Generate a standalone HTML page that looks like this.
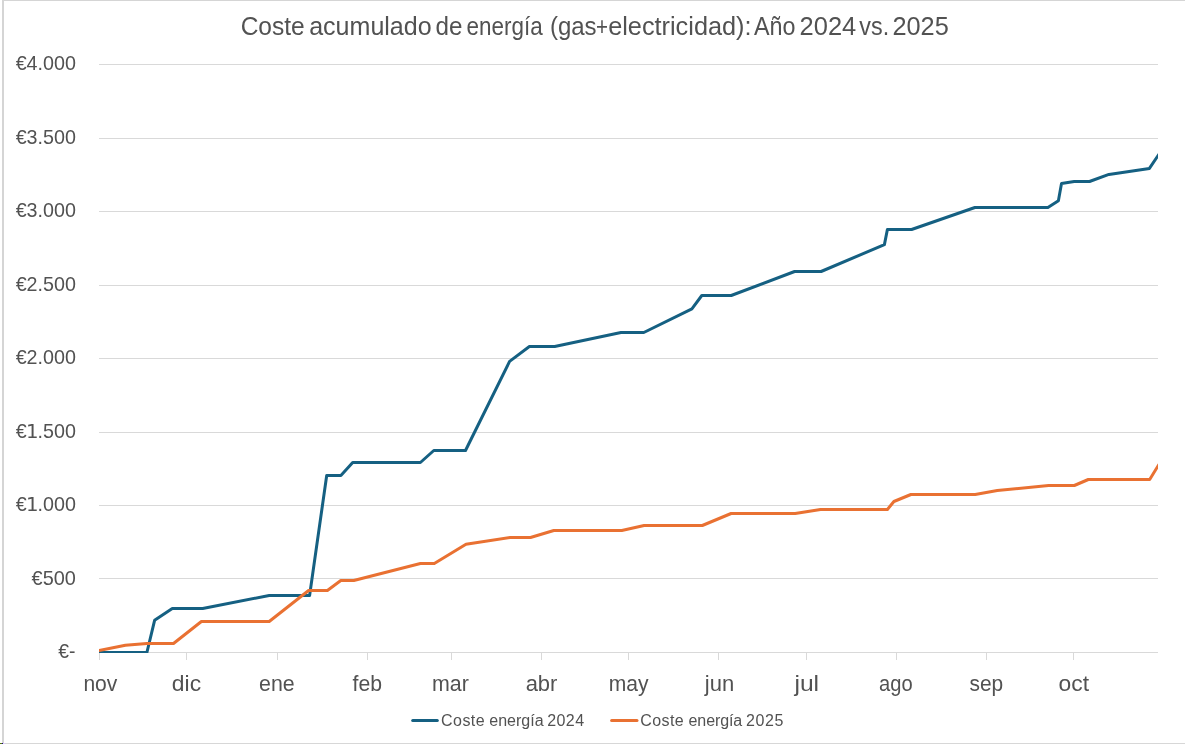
<!DOCTYPE html>
<html lang="es">
<head>
<meta charset="utf-8">
<title>Coste acumulado de energía (gas+electricidad): Año 2024 vs. 2025</title>
<style>
html,body{margin:0;padding:0;background:#fff;}
body{width:1185px;height:744px;overflow:hidden;position:relative;font-family:"Liberation Sans",sans-serif;}
svg{position:absolute;left:0;top:0;display:block;}
text{font-family:"Liberation Sans",sans-serif;fill:#525252;white-space:pre;}
.yl{font-size:19.8px;}
.xl{font-size:22.3px;}
.tt{font-size:25px;}
.lg{font-size:16px;}
.d1{font-family:"DejaVu Sans","Liberation Sans",sans-serif;}
</style>
</head>
<body>
<svg width="1185" height="744" viewBox="0 0 1185 744">
<rect x="0" y="0" width="1185" height="744" fill="#ffffff"/>
<g shape-rendering="crispEdges">
<rect x="2" y="0" width="1183" height="1" fill="#d5d5d5"/>
<rect x="2" y="0" width="2" height="744" fill="#d5d5d5"/>
<rect x="5" y="743" width="1180" height="1" fill="#d7d7d7"/>
<rect x="0" y="743" width="2" height="1" fill="#557a10"/>
<rect x="2" y="743" width="1" height="1" fill="#1e0e78"/>
<rect x="3" y="743" width="2" height="1" fill="#dccdfc"/>
</g>
<g fill="#d9d9d9" shape-rendering="crispEdges">
<rect x="99" y="64" width="1059" height="1"/>
<rect x="99" y="138" width="1059" height="1"/>
<rect x="99" y="211" width="1059" height="1"/>
<rect x="99" y="285" width="1059" height="1"/>
<rect x="99" y="358" width="1059" height="1"/>
<rect x="99" y="432" width="1059" height="1"/>
<rect x="99" y="505" width="1059" height="1"/>
<rect x="99" y="578" width="1059" height="1"/>
<rect x="99" y="652" width="1059" height="1"/>
<rect x="99" y="653" width="1" height="7"/>
<rect x="186" y="653" width="1" height="7"/>
<rect x="277" y="653" width="1" height="7"/>
<rect x="367" y="653" width="1" height="7"/>
<rect x="451" y="653" width="1" height="7"/>
<rect x="541" y="653" width="1" height="7"/>
<rect x="628" y="653" width="1" height="7"/>
<rect x="718" y="653" width="1" height="7"/>
<rect x="806" y="653" width="1" height="7"/>
<rect x="896" y="653" width="1" height="7"/>
<rect x="986" y="653" width="1" height="7"/>
<rect x="1073" y="653" width="1" height="7"/>
</g>
<text class="tt"><tspan x="240.64" y="34.70" textLength="64.11" lengthAdjust="spacingAndGlyphs">Coste</tspan> <tspan x="309.15" y="34.70" textLength="122.52" lengthAdjust="spacingAndGlyphs">acumulado</tspan> <tspan x="435.57" y="34.70" textLength="26.93" lengthAdjust="spacingAndGlyphs">de</tspan> <tspan x="466.50" y="34.70" textLength="76.14" lengthAdjust="spacingAndGlyphs">energía</tspan> <tspan x="549.90" y="34.70" textLength="46.70" lengthAdjust="spacingAndGlyphs">(gas</tspan><tspan x="596.00" y="34.70" textLength="12.00" lengthAdjust="spacingAndGlyphs">+</tspan><tspan x="608.17" y="34.70" textLength="143.39" lengthAdjust="spacingAndGlyphs">electricidad):</tspan> <tspan x="753.92" y="34.70" textLength="41.47" lengthAdjust="spacingAndGlyphs">Año</tspan> <tspan x="799.60" y="34.70" textLength="56.64" lengthAdjust="spacingAndGlyphs">2024</tspan> <tspan x="859.35" y="34.70" textLength="29.81" lengthAdjust="spacingAndGlyphs">vs.</tspan> <tspan x="892.44" y="34.70" textLength="56.36" lengthAdjust="spacingAndGlyphs">2025</tspan></text>
<text class="yl" x="15.67" y="70.10" textLength="60.28" lengthAdjust="spacingAndGlyphs">€4.000</text>
<text class="yl" x="15.67" y="144.10" textLength="60.28" lengthAdjust="spacingAndGlyphs">€3.500</text>
<text class="yl" x="15.67" y="217.10" textLength="60.28" lengthAdjust="spacingAndGlyphs">€3.000</text>
<text class="yl" x="15.67" y="291.10" textLength="60.28" lengthAdjust="spacingAndGlyphs">€2.500</text>
<text class="yl" x="15.67" y="364.10" textLength="60.28" lengthAdjust="spacingAndGlyphs">€2.000</text>
<text class="yl" x="15.67" y="438.10" textLength="60.28" lengthAdjust="spacingAndGlyphs">€<tspan class="d1" dx="-0.7">1</tspan><tspan dx="-0.9">.500</tspan></text>
<text class="yl" x="15.67" y="511.10" textLength="60.28" lengthAdjust="spacingAndGlyphs">€<tspan class="d1" dx="-0.7">1</tspan><tspan dx="-0.9">.000</tspan></text>
<text class="yl" x="31.59" y="585.00" textLength="44.26" lengthAdjust="spacingAndGlyphs">€500</text>
<text class="yl" x="58.31" y="658.10" textLength="17.18" lengthAdjust="spacingAndGlyphs">€-</text>
<text class="xl" x="83.38" y="690.80" textLength="33.95" lengthAdjust="spacingAndGlyphs">nov</text>
<text class="xl" x="171.87" y="690.80" textLength="29.26" lengthAdjust="spacingAndGlyphs">dic</text>
<text class="xl" x="259.04" y="690.80" textLength="35.60" lengthAdjust="spacingAndGlyphs">ene</text>
<text class="xl" x="352.50" y="690.80" textLength="29.49" lengthAdjust="spacingAndGlyphs">feb</text>
<text class="xl" x="432.01" y="690.80" textLength="36.82" lengthAdjust="spacingAndGlyphs">mar</text>
<text class="xl" x="525.64" y="690.80" textLength="31.74" lengthAdjust="spacingAndGlyphs">abr</text>
<text class="xl" x="608.85" y="690.80" textLength="39.76" lengthAdjust="spacingAndGlyphs">may</text>
<text class="xl" x="704.76" y="690.80" textLength="29.38" lengthAdjust="spacingAndGlyphs">jun</text>
<text class="xl" x="794.44" y="690.80" textLength="24.66" lengthAdjust="spacingAndGlyphs">jul</text>
<text class="xl" x="879.00" y="690.80" textLength="33.57" lengthAdjust="spacingAndGlyphs">ago</text>
<text class="xl" x="969.45" y="690.80" textLength="33.73" lengthAdjust="spacingAndGlyphs">sep</text>
<text class="xl" x="1058.63" y="690.80" textLength="30.46" lengthAdjust="spacingAndGlyphs">oct</text>
<defs><clipPath id="pc"><rect x="99" y="40" width="1059" height="613"/></clipPath></defs>
<g clip-path="url(#pc)" fill="none" stroke-width="3" stroke-linejoin="round" stroke-linecap="round">
<polyline stroke="#156082" points="99,652.5 146.9,652.5 154.6,620.3 172.3,608.5 202.7,608.5 269.2,595.5 309.6,595.5 326.7,475.5 340.9,475.5 352.7,462.5 420.4,462.5 433.8,450.5 465.5,450.5 509.6,361.4 529.4,346.5 554.7,346.5 621,332.5 643.8,332.5 691.9,308.8 701.8,295.5 731.2,295.5 794.6,271.5 821.1,271.5 884.4,244.6 887.4,229.5 911.6,229.5 974.9,207.5 1047.9,207.5 1058.4,200.7 1061.5,183.6 1074.2,181.5 1089.5,181.5 1108.9,174.4 1149.4,168.4 1158.6,154.8"/>
<polyline stroke="#e97132" points="99,650.5 125.4,645.2 147,643.5 173.5,643.5 201.4,621.5 269.2,621.5 308.6,590.5 327.4,590.5 340.8,580.5 353.8,580.5 420.4,563.5 434.3,563.5 466,544.3 510.3,537.5 530.5,537.5 553.8,530.5 621.8,530.5 644.1,525.5 702.3,525.5 731.1,513.5 795.2,513.5 820.5,509.5 887.4,509.5 893.9,501.5 910.9,494.5 975.2,494.5 997.3,490.5 1048.6,485.5 1074.3,485.5 1088.3,479.5 1149.7,479.5 1158.6,465.0"/>
</g>
<g fill="none" stroke-width="3" stroke-linecap="round">
<line x1="412.7" y1="720.5" x2="437.3" y2="720.5" stroke="#156082"/>
<line x1="611.6" y1="720.5" x2="637.0" y2="720.5" stroke="#e97132"/>
</g>
<text class="lg"><tspan x="441.00" y="725.80" textLength="43.70" lengthAdjust="spacing">Coste</tspan> <tspan x="489.29" y="725.80" textLength="54.36" lengthAdjust="spacing">energía</tspan> <tspan x="547.17" y="725.80" textLength="36.87" lengthAdjust="spacing">2024</tspan></text>
<text class="lg"><tspan x="640.16" y="725.80" textLength="43.51" lengthAdjust="spacing">Coste</tspan> <tspan x="688.56" y="725.80" textLength="53.62" lengthAdjust="spacing">energía</tspan> <tspan x="746.04" y="725.80" textLength="37.33" lengthAdjust="spacing">2025</tspan></text>
</svg>
</body>
</html>
